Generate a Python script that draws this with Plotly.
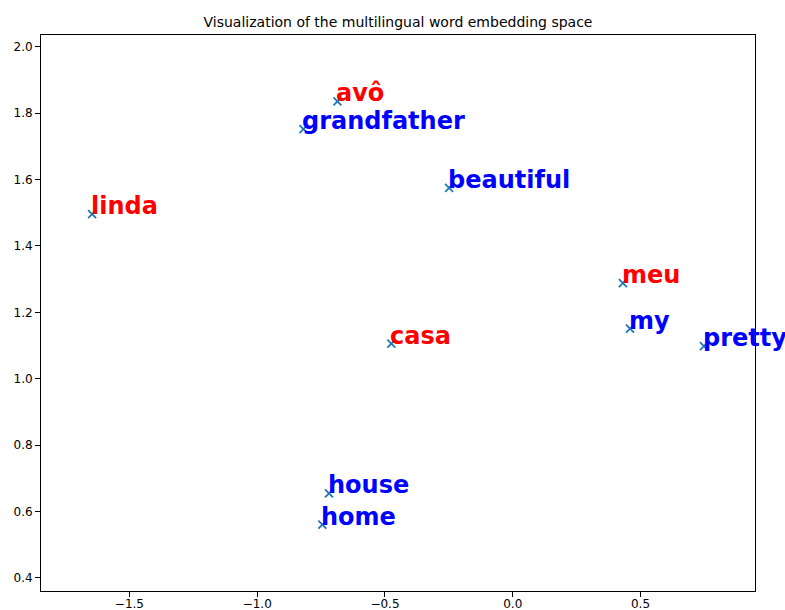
import plotly.graph_objects as go

words = ["avô", "grandfather", "beautiful", "linda", "meu", "my", "pretty", "casa", "house", "home"]
x_vals = [-0.686, -0.819, -0.249, -1.646, 0.431, 0.459, 0.748, -0.475, -0.719, -0.745]
y_vals = [1.836, 1.752, 1.575, 1.496, 1.288, 1.151, 1.098, 1.106, 0.654, 0.560]
languages = ["pt", "en", "en", "pt", "pt", "en", "en", "pt", "en", "en"]
lang_colors = {"pt": "red", "en": "blue"}
title_text = "Visualization of the multilingual word embedding space"
x_ticks = [-1.5, -1.0, -0.5, 0.0, 0.5]
x_tick_labels = ["\u22121.5", "\u22121.0", "\u22120.5", "0.0", "0.5"]
y_ticks = [0.4, 0.6, 0.8, 1.0, 1.2, 1.4, 1.6, 1.8, 2.0]
y_tick_labels = ["0.4", "0.6", "0.8", "1.0", "1.2", "1.4", "1.6", "1.8", "2.0"]

pad = 0.2
x_range = [min(x_vals) - pad, max(x_vals) + pad]
y_range = [min(y_vals) - pad, max(y_vals) + pad]

fig = go.Figure()
fig.add_trace(go.Scatter(
    x=x_vals, y=y_vals, mode="markers",
    marker=dict(symbol="x-thin", size=8, color="#1f77b4",
                line=dict(width=1.8, color="#1f77b4")),
    showlegend=False, hoverinfo="skip", cliponaxis=False,
))

for w, xv, yv, lang in zip(words, x_vals, y_vals, languages):
    fig.add_annotation(
        x=xv, y=yv, text="<b>%s</b>" % w, showarrow=False,
        xanchor="left", yanchor="bottom", borderpad=0,
        xshift=-2, yshift=-7,
        font=dict(family="DejaVu Sans", size=24, color=lang_colors[lang]),
    )

axis_common = dict(
    showgrid=False, zeroline=False, showline=True, linecolor="black",
    linewidth=1, mirror=True, ticks="outside", ticklen=5, tickcolor="black",
    automargin=False,
    tickfont=dict(family="DejaVu Sans", size=12, color="black"),
)

fig.update_layout(
    width=785, height=610,
    margin=dict(l=41, r=30, t=35, b=19, autoexpand=False),
    paper_bgcolor="white", plot_bgcolor="white",
    title=dict(text=title_text, x=0.507, xanchor="center", y=0.964, yanchor="middle",
               yref="container", automargin=False,
               font=dict(family="DejaVu Sans", size=14, color="black")),
    xaxis=dict(range=x_range, tickvals=x_ticks, ticktext=x_tick_labels,
               ticklabelstandoff=-3, **axis_common),
    yaxis=dict(range=y_range, tickvals=y_ticks, ticktext=y_tick_labels, **axis_common),
)

fig.write_html(
    "out.html",
    config={"displayModeBar": False},
    post_script="document.body.style.margin='0';document.body.style.overflow='hidden';",
)
